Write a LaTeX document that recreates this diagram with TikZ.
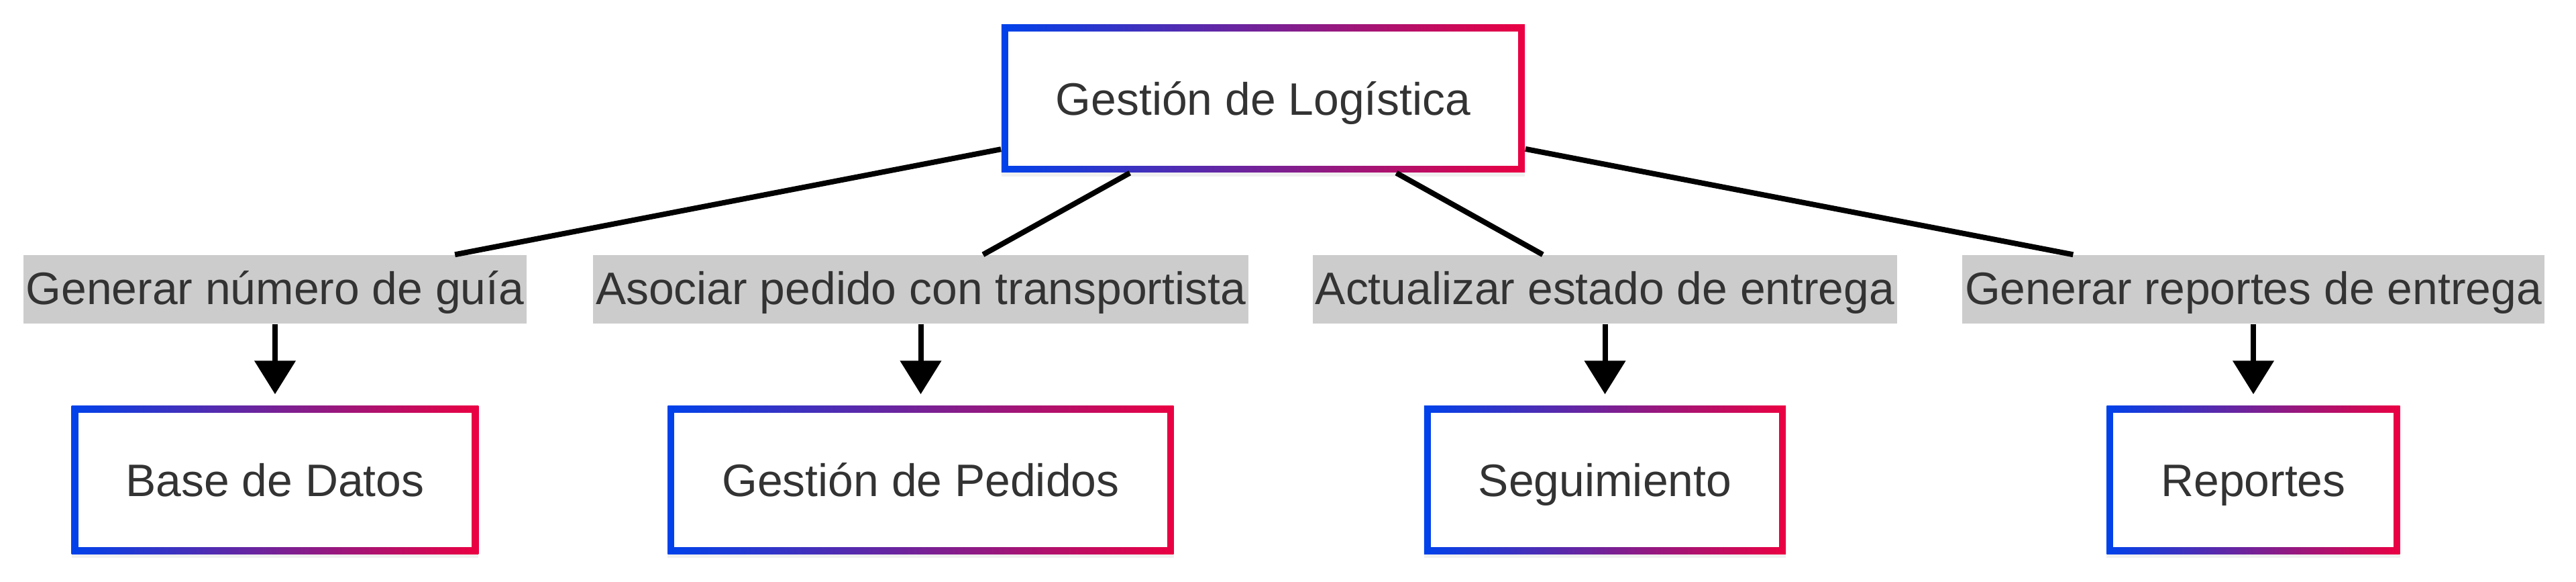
\documentclass[tikz,border=0pt]{standalone}
\usepackage{fontspec}
\setmainfont{Liberation Sans}
\usepackage{xcolor}
\usepackage{tikz}
\usetikzlibrary{arrows.meta,positioning,calc,shadows}

\definecolor{gblue}{HTML}{0042EB}
\definecolor{gred}{HTML}{EB0042}
\definecolor{txtgray}{HTML}{333333}
\definecolor{lblgray}{HTML}{CCCCCC}

\begin{document}
\begin{tikzpicture}[
        font=\fontsize{19.3pt}{23pt}\selectfont,
        box/.style={rectangle, minimum height=2.2cm, inner xsep=0.81cm,
            text height=0.64cm, text depth=0.14cm,
            text=txtgray, left color=gblue, right color=gred,
            drop shadow={shadow xshift=0cm, shadow yshift=-0.06cm, opacity=0.12},
            path picture={\fill[white] ([shift={(0.1,0.1)}]path picture bounding box.south west)
                rectangle ([shift={(-0.1,-0.1)}]path picture bounding box.north east);}},
        edgelabel/.style={rectangle, fill=lblgray, text=txtgray, minimum height=1.02cm,
            text height=0.6cm, text depth=0.14cm, inner ysep=0cm, inner xsep=0.04cm},
        link/.style={black, line width=0.08cm},
        arr/.style={link, -{Triangle[length=0.5cm,width=0.6cm]}, shorten >=0.17cm}
    ]
        % Canvas
        \useasboundingbox (0,0) rectangle (38.4,8.66);

        % Top node
        \node[box] (top) at (18.83,7.19) {Gestión de Logística};

        % Branches: edge label and target node
        \foreach \i/\x/\lbl/\name in {1/4.10/Generar número de guía/Base de Datos,
                2/13.725/Asociar pedido con transportista/Gestión de Pedidos,
                3/23.925/Actualizar estado de entrega/Seguimiento,
                4/33.59/Generar reportes de entrega/Reportes} {
            \node[edgelabel] (lab\i) at (\x,4.35) {\lbl};
            \node[box] (n\i) at (\x,1.51) {\name};

            \draw[link] (top) -- (lab\i);
            \draw[arr] (lab\i) -- (n\i);
        }

    \end{tikzpicture}
\end{document}
